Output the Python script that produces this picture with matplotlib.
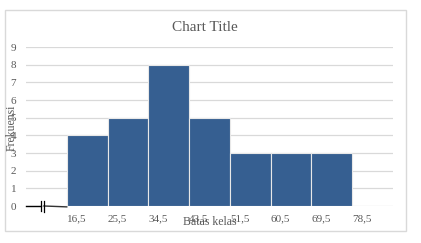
import matplotlib

matplotlib.use("Agg")

import matplotlib.pyplot as plt
from matplotlib.patches import Rectangle

# histogram data
boundaries = ["16,5", "25,5", "34,5", "43,5", "51,5", "60,5", "69,5", "78,5"]
frequencies = [4, 5, 8, 5, 3, 3, 3]
y_ticks = list(range(10))

BAR_COLOR = "#365f91"
GRID_COLOR = "#d9d9d9"
TEXT_COLOR = "#595959"
FONT = ["Liberation Serif", "DejaVu Serif"]

W, H = 421, 243
fig = plt.figure(figsize=(W / 100, H / 100), dpi=100)
fig.patch.set_facecolor("white")

# outer chart border
fig.add_artist(
    Rectangle(
        (5 / W, 1 - 231 / H), 401 / W, 221 / H,
        transform=fig.transFigure, facecolor="none",
        edgecolor=GRID_COLOR, linewidth=1.0,
    )
)

ax = fig.add_axes([26 / W, 1 - 206 / H, 367 / W, 159 / H])
n_slots = len(boundaries) + 1
centers = [i + 1.5 for i in range(len(frequencies))]
ax.bar(centers, frequencies, width=1.0, color=BAR_COLOR, edgecolor="#e8e8e8",
       linewidth=0.8, zorder=3)

ax.set_xlim(0, n_slots)
ax.set_ylim(0, 9)
ax.set_yticks(y_ticks)
ax.set_yticklabels([str(v) for v in y_ticks], fontsize=8, color=TEXT_COLOR,
                   family=FONT)
ax.set_xticks(range(1, len(boundaries) + 1))
ax.set_xticklabels(boundaries, fontsize=8, color=TEXT_COLOR, family=FONT,
                   ha="left")
ax.tick_params(axis="both", length=0)
ax.tick_params(axis="x", pad=6)
ax.tick_params(axis="y", pad=7)
ax.grid(axis="y", color=GRID_COLOR, linewidth=0.9, zorder=0)
for s in ax.spines.values():
    s.set_visible(False)

# axis break mark left of the first bar
ax.plot([0, 0.36], [0, 0], color="black", linewidth=1.0, clip_on=False, zorder=4)
ax.plot([0.44, 1.0], [0, -0.05], color="#333333", linewidth=1.0, clip_on=False, zorder=4)
ax.plot([0.36, 0.36], [-0.3, 0.3], color="black", linewidth=0.9, clip_on=False, zorder=4)
ax.plot([0.44, 0.44], [-0.35, 0.3], color="black", linewidth=0.9, clip_on=False, zorder=4)

fig.text(205 / W, 1 - 27 / H, "Chart Title", ha="center", va="center",
         fontsize=11, color=TEXT_COLOR, family=FONT)
fig.text(210 / W, 1 - 222 / H, "Batas kelas", ha="center", va="center",
         fontsize=8.5, color=TEXT_COLOR, family=FONT)
fig.text(12 / W, 1 - 128 / H, "Frekuensi", ha="center", va="center",
         rotation=90, fontsize=8.5, color=TEXT_COLOR, family=FONT)

fig.savefig("out.png", dpi=100)
plt.close(fig)
